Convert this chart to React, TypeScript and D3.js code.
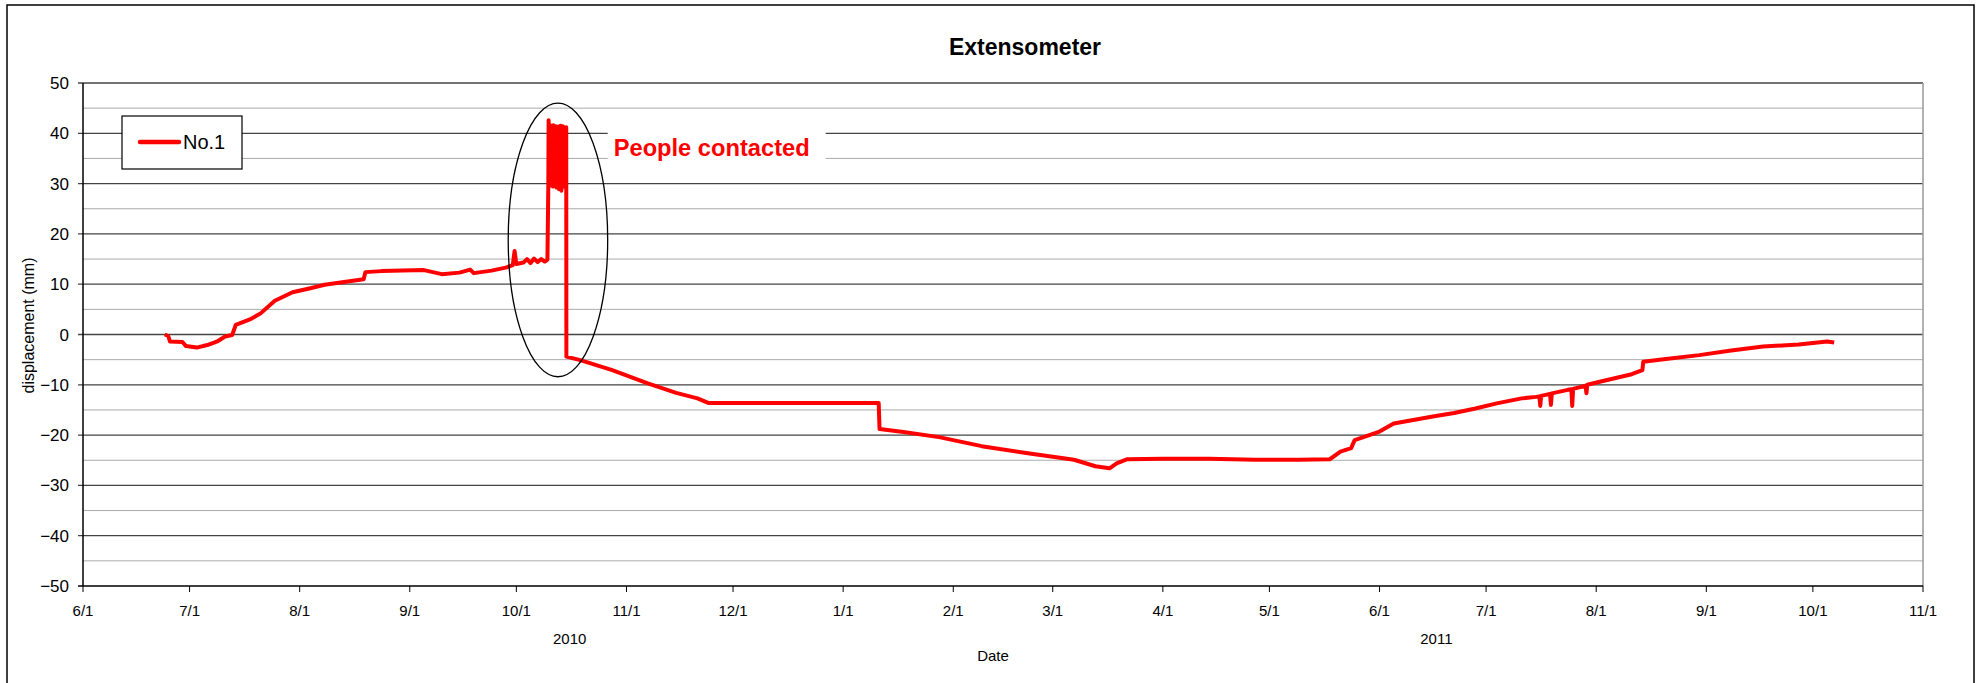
import * as d3 from 'd3'

const W = 1984
const H = 683

// No.1 extensometer readings (mm)
const times = [
  '2010-06-24 00:00', '2010-06-25 00:00', '2010-06-25 12:00', '2010-06-29 00:00', '2010-06-30 00:00',
  '2010-07-03 00:00', '2010-07-06 00:00', '2010-07-09 00:00', '2010-07-11 00:00', '2010-07-13 00:00',
  '2010-07-14 00:00', '2010-07-18 00:00', '2010-07-21 00:00', '2010-07-25 00:00', '2010-07-30 00:00',
  '2010-08-04 00:00', '2010-08-08 00:00', '2010-08-15 00:00', '2010-08-19 00:00', '2010-08-19 12:00',
  '2010-08-24 00:00', '2010-09-05 00:00', '2010-09-10 00:00', '2010-09-15 00:00', '2010-09-18 00:00',
  '2010-09-19 00:00', '2010-09-24 00:00', '2010-09-28 00:00', '2010-09-30 00:00', '2010-09-30 12:00',
  '2010-10-01 00:00', '2010-10-03 00:00', '2010-10-04 00:00', '2010-10-05 00:00', '2010-10-06 00:00',
  '2010-10-07 00:00', '2010-10-08 00:00', '2010-10-09 00:00', '2010-10-09 18:00',
  // people contacted
  '2010-10-10 00:00', '2010-10-10 02:00', '2010-10-10 04:00', '2010-10-10 06:00', '2010-10-10 08:00',
  '2010-10-10 10:00', '2010-10-10 12:00', '2010-10-10 14:00', '2010-10-10 16:00', '2010-10-10 18:00',
  '2010-10-10 20:00', '2010-10-10 22:00', '2010-10-11 00:00', '2010-10-11 02:00', '2010-10-11 04:00',
  '2010-10-11 06:00', '2010-10-11 08:00', '2010-10-11 10:00', '2010-10-11 12:00', '2010-10-11 14:00',
  '2010-10-11 16:00', '2010-10-11 18:00', '2010-10-11 20:00', '2010-10-11 22:00', '2010-10-12 00:00',
  '2010-10-12 02:00', '2010-10-12 04:00', '2010-10-12 06:00', '2010-10-12 08:00', '2010-10-12 10:00',
  '2010-10-12 12:00', '2010-10-12 14:00', '2010-10-12 16:00', '2010-10-12 18:00', '2010-10-12 20:00',
  '2010-10-12 22:00', '2010-10-13 00:00', '2010-10-13 02:00', '2010-10-13 04:00', '2010-10-13 06:00',
  '2010-10-13 08:00', '2010-10-13 10:00', '2010-10-13 12:00', '2010-10-13 14:00', '2010-10-13 16:00',
  '2010-10-13 18:00', '2010-10-13 20:00', '2010-10-13 22:00', '2010-10-14 00:00', '2010-10-14 02:00',
  '2010-10-14 04:00', '2010-10-14 06:00', '2010-10-14 08:00', '2010-10-14 10:00', '2010-10-14 12:00',
  '2010-10-14 14:00', '2010-10-14 16:00', '2010-10-14 18:00', '2010-10-14 20:00', '2010-10-14 22:00',
  '2010-10-15 00:00', '2010-10-15 01:00',
  '2010-10-15 02:00', '2010-10-19 00:00', '2010-10-28 00:00', '2010-11-07 00:00', '2010-11-15 00:00',
  '2010-11-21 00:00', '2010-11-24 00:00', '2011-01-11 00:00', '2011-01-11 06:00', '2011-01-18 00:00',
  '2011-01-28 00:00', '2011-02-09 00:00', '2011-02-22 00:00', '2011-03-07 00:00', '2011-03-13 00:00',
  '2011-03-17 00:00', '2011-03-19 00:00', '2011-03-22 00:00', '2011-04-01 00:00', '2011-04-14 00:00',
  '2011-04-27 00:00', '2011-05-09 00:00', '2011-05-18 00:00', '2011-05-21 00:00', '2011-05-24 00:00',
  '2011-05-25 00:00', '2011-06-01 00:00', '2011-06-05 00:00', '2011-06-16 00:00', '2011-06-22 00:00',
  '2011-06-28 00:00', '2011-07-04 00:00', '2011-07-11 00:00', '2011-07-15 00:00', '2011-07-16 00:00',
  '2011-07-16 06:00', '2011-07-16 12:00', '2011-07-19 00:00', '2011-07-19 06:00', '2011-07-19 12:00',
  '2011-07-24 00:00', '2011-07-25 00:00', '2011-07-25 06:00', '2011-07-25 12:00', '2011-07-29 00:00',
  '2011-07-29 06:00', '2011-07-29 12:00', '2011-08-02 00:00', '2011-08-11 00:00', '2011-08-14 00:00',
  '2011-08-14 06:00', '2011-08-20 00:00', '2011-08-30 00:00', '2011-09-08 00:00', '2011-09-17 00:00',
  '2011-09-27 00:00', '2011-10-05 00:00', '2011-10-07 00:00',
]

const values = [
  0.0, -0.3, -1.4, -1.5, -2.3,
  -2.6, -2.1, -1.3, -0.4, -0.1,
  1.9, 3.0, 4.2, 6.7, 8.4,
  9.2, 9.9, 10.6, 11.0, 12.4,
  12.6, 12.8, 12.0, 12.3, 12.9,
  12.2, 12.7, 13.3, 13.8, 16.6,
  14.0, 14.3, 15.0, 14.2, 15.1,
  14.4, 15.0, 14.5, 14.9,
  30.0, 42.6, 31.0, 41.8, 30.5,
  41.2, 29.9, 41.5, 29.6, 41.3,
  30.2, 41.5, 30.2, 41.0, 29.7,
  41.4, 29.4, 41.6, 30.1, 41.2,
  30.8, 41.1, 29.5, 41.3, 29.8,
  41.4, 29.6, 41.2, 29.2, 41.0,
  29.9, 41.3, 30.1, 41.3, 29.4,
  41.1, 28.9, 41.2, 29.3, 41.4,
  29.0, 41.5, 28.8, 41.2, 28.6,
  41.0, 29.1, 41.3, 29.3, 41.4,
  29.7, 41.2, 30.0, 41.2, 29.8,
  41.1, 29.5, 41.0, 30.2, 41.1,
  30.4, 41.2,
  -4.4, -5.1, -7.1, -9.7, -11.6,
  -12.7, -13.6, -13.6, -18.8, -19.4,
  -20.4, -22.2, -23.6, -24.9, -26.2,
  -26.6, -25.6, -24.8, -24.7, -24.7,
  -24.9, -24.9, -24.8, -23.3, -22.6,
  -21.0, -19.3, -17.7, -16.3, -15.6,
  -14.7, -13.7, -12.7, -12.4, -12.3,
  -14.2, -12.2, -11.8, -14.0, -11.7,
  -11.0, -10.9, -14.2, -10.8, -10.2,
  -11.7, -10.0, -9.4, -7.9, -7.1,
  -5.4, -4.9, -4.1, -3.2, -2.4,
  -2.0, -1.4, -1.6,
]

const monthTicks = [
  '2010-06-01', '2010-07-01', '2010-08-01', '2010-09-01', '2010-10-01', '2010-11-01',
  '2010-12-01', '2011-01-01', '2011-02-01', '2011-03-01', '2011-04-01', '2011-05-01',
  '2011-06-01', '2011-07-01', '2011-08-01', '2011-09-01', '2011-10-01', '2011-11-01',
]
const yearLabels = ['2010', '2011']
const yearLabelAt = ['2010-10-16', '2011-06-17']

const parseTime = d3.timeParse('%Y-%m-%d %H:%M')
const parseDay = d3.timeParse('%Y-%m-%d')

const margin = { left: 83, right: 61, top: 83, bottom: 97 }
const font = '"Liberation Sans", Arial, sans-serif'

export default function App() {
  const data = times.map((t, i) => ({ t: parseTime(t) as Date, v: values[i] }))
  const ticks = monthTicks.map(d => parseDay(d) as Date)

  const x = d3
    .scaleTime()
    .domain([ticks[0], ticks[ticks.length - 1]])
    .range([margin.left, W - margin.right])
  const y = d3
    .scaleLinear()
    .domain([-50, 50])
    .range([H - margin.bottom, margin.top])

  const line = d3
    .line<{ t: Date; v: number }>()
    .x(d => x(d.t))
    .y(d => y(d.v))

  const majors = d3.range(-40, 51, 10)
  const minors = d3.range(-45, 50, 10)
  const x0 = x.range()[0]
  const x1 = x.range()[1]

  // annotation ellipse in data space
  const ellC = parseTime('2010-10-12 17:00') as Date
  const ellR = d3.timeDay.offset(ellC, 14)
  const cx = x(ellC)
  const rx = x(ellR) - cx
  const cy = y(18.8)
  const ry = y(-8.4) - cy

  return (
    <svg
      width={W}
      height={H}
      style={{ position: 'absolute', left: 0, top: 0, background: '#fff' }}
      fontFamily={font}
    >
      <rect x={7} y={5} width={1967} height={H + 5} fill="#fff" stroke="#000" strokeWidth={1.5} />

      <text x={1025} y={55} textAnchor="middle" fontSize={23} fontWeight="bold">
        Extensometer
      </text>

      {minors.map(v => (
        <line key={'m' + v} x1={x0} x2={x1} y1={y(v)} y2={y(v)} stroke="#aaa" strokeWidth={1} />
      ))}
      {majors.map(v => (
        <line key={'M' + v} x1={x0 - 5} x2={x1} y1={y(v)} y2={y(v)} stroke="#444" strokeWidth={1.3} />
      ))}
      <line x1={x1} x2={x1} y1={y(50)} y2={y(-50)} stroke="#999" strokeWidth={1.5} />
      <line x1={x0} x2={x0} y1={y(50)} y2={y(-50)} stroke="#000" strokeWidth={1.5} />
      <line x1={x0 - 5} x2={x1} y1={y(-50)} y2={y(-50)} stroke="#000" strokeWidth={1.5} />

      {d3.range(-50, 51, 10).map(v => (
        <text key={'yl' + v} x={x0 - 14} y={y(v) + 6} textAnchor="end" fontSize={17}>
          {d3.format('d')(v)}
        </text>
      ))}

      {ticks.map((d, i) => (
        <g key={'xt' + i}>
          <line x1={x(d)} x2={x(d)} y1={y(-50)} y2={y(-50) + 6} stroke="#000" strokeWidth={1} />
          <text x={x(d)} y={y(-50) + 30} textAnchor="middle" fontSize={15}>
            {d3.timeFormat('%-m/%-d')(d)}
          </text>
        </g>
      ))}

      {yearLabels.map((lab, i) => (
        <text
          key={lab}
          x={x(parseDay(yearLabelAt[i]) as Date)}
          y={644}
          textAnchor="middle"
          fontSize={15}
        >
          {lab}
        </text>
      ))}

      <text x={993} y={661} textAnchor="middle" fontSize={15}>
        Date
      </text>
      <text
        transform={`translate(34, ${(y(50) + y(-50)) / 2 - 9}) rotate(-90)`}
        textAnchor="middle"
        fontSize={16}
      >
        displacement (mm)
      </text>

      <path d={line(data) ?? ''} fill="none" stroke="#ff0000" strokeWidth={4} strokeLinejoin="round" />

      <ellipse cx={cx} cy={cy} rx={rx} ry={ry} fill="none" stroke="#000" strokeWidth={1.3} />

      <rect x={cx + rx} y={129} width={218} height={33} fill="#fff" />
      <text
        x={cx + rx + 6}
        y={156}
        fontSize={24}
        fontWeight="bold"
        fill="#ff0000"
        textLength={196}
        lengthAdjust="spacingAndGlyphs"
      >
        People contacted
      </text>

      <rect x={122} y={116} width={120} height={53} fill="#fff" stroke="#000" strokeWidth={1.2} />
      <line x1={140} x2={179} y1={142} y2={142} stroke="#ff0000" strokeWidth={4.5} strokeLinecap="round" />
      <text x={183} y={149} fontSize={20}>
        No.1
      </text>
    </svg>
  )
}
